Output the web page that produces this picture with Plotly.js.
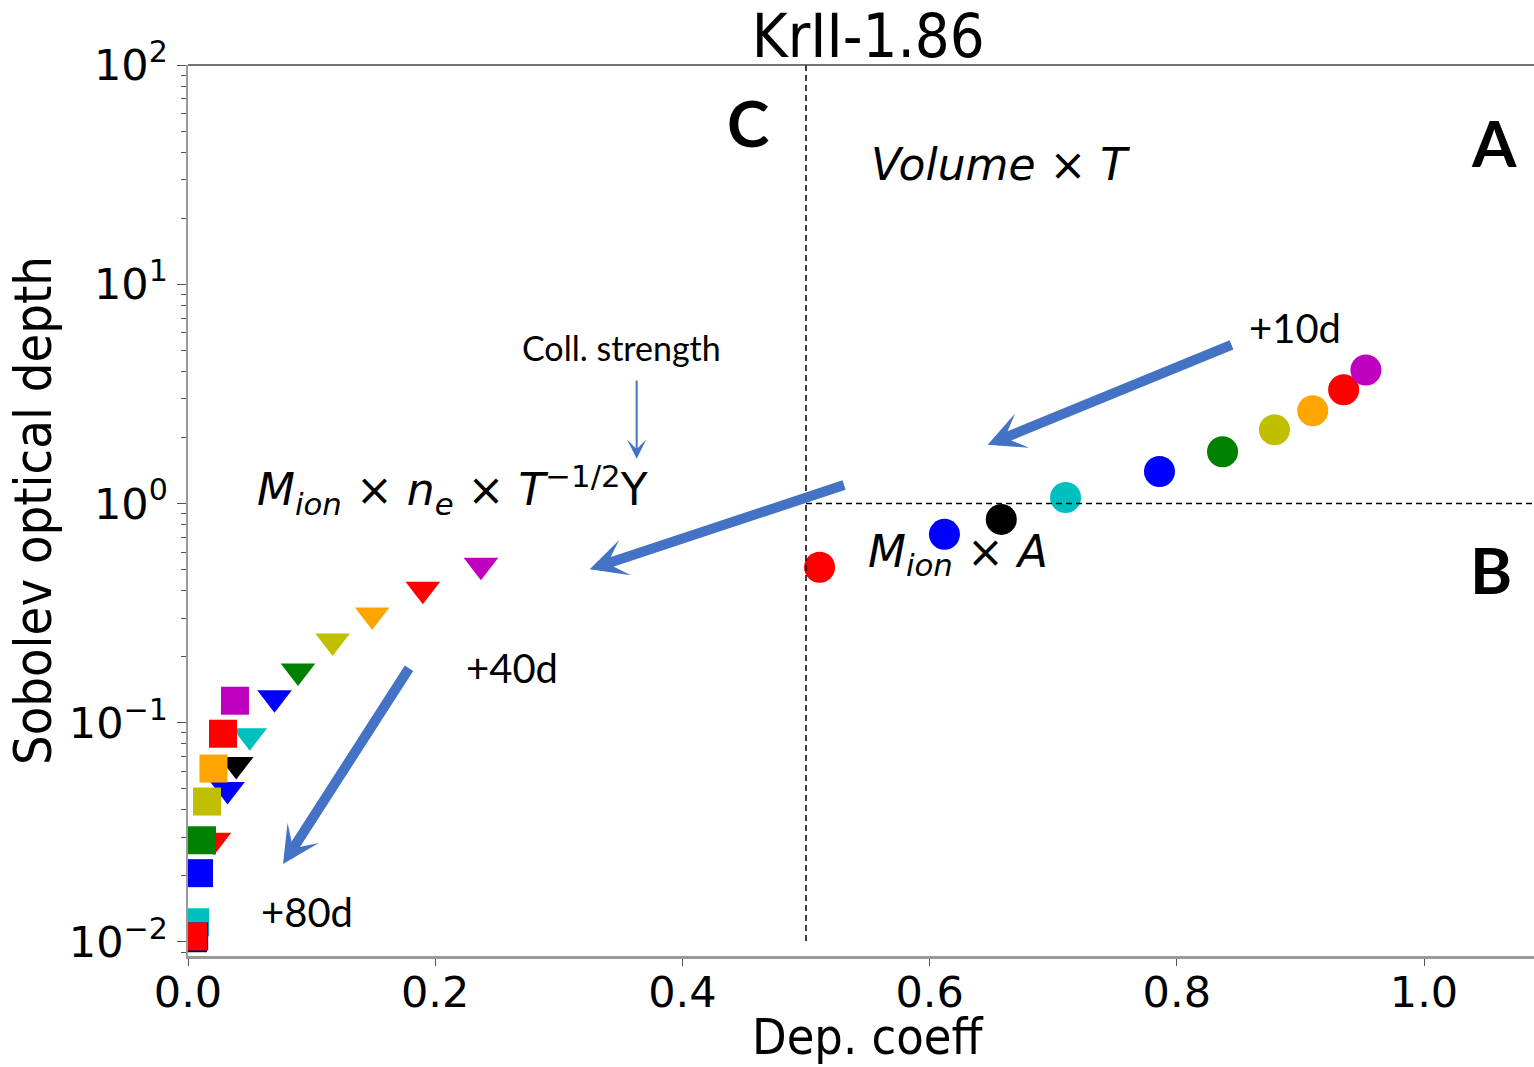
<!DOCTYPE html>
<html>
<head>
<meta charset="utf-8">
<script src="https://cdn.plot.ly/plotly-3.0.1.min.js"></script>
<style>html,body{margin:0;padding:0;background:#fff;}#chart{width:1534px;height:1067px;}</style>
</head>
<body>
<div id="chart"></div>
<script>
// Epoch colours (same order for every marker family)
const epochColors = ['#ff0000','#0000ff','#000000','#00bfbf','#0000ff','#008000','#bfbf00','#ffa500','#ff0000','#bf00bf'];

// Circles (upper right branch)
const circleX = [0.511,0.612,0.658,0.710,0.786,0.837,0.879,0.910,0.935,0.953];
const circleY = [0.512,0.723,0.846,1.065,1.398,1.723,2.17,2.65,3.30,4.06];

// Down-triangles
const triX = [0.021,0.032,0.039,0.050,0.070,0.089,0.117,0.149,0.190,0.237];
const triY = [0.0291,0.0496,0.0645,0.0873,0.130,0.172,0.236,0.310,0.406,0.523];

// Squares
const sqX = [0.004,0.005,0.004,0.0057,0.0089,0.0113,0.0154,0.0206,0.0283,0.038];
const sqY = [0.0106,0.0106,0.0104,0.0123,0.0206,0.0291,0.0437,0.0618,0.0891,0.126];

// Axis ticks
const xTickVals = [0,0.2,0.4,0.6,0.8,1.0];
const xTickText = ['0.0','0.2','0.4','0.6','0.8','1.0'];
const yTickVals = [0.01,0.1,1,10,100];
const yTickText = ['10<sup>−2</sup>','10<sup>−1</sup>','10<sup>0</sup>','10<sup>1</sup>','10<sup>2</sup>'];

const rev = a => a.slice().reverse();

const traces = [
  {x: circleX, y: circleY, type:'scatter', mode:'markers',
   marker:{symbol:'circle', size:31, color:epochColors, line:{width:0}}},
  {x: triX, y: triY, type:'scatter', mode:'markers',
   marker:{symbol:'triangle-down', size:30, color:epochColors, line:{width:0}}},
  {x: rev(sqX), y: rev(sqY), type:'scatter', mode:'markers',
   marker:{symbol:'square', size:28, color:rev(epochColors), line:{width:0}}}
];

const blue = '#4472C4';
const lg = Math.log10;
const mathFont = {family:'DejaVu Sans', size:44, color:'#000'};
const calFont = {family:'Lato', size:40, color:'#000'};
const letterFont = {family:'Lato', size:64, color:'#000', weight:900};

function label(x, y, text, font, extra){
  return Object.assign({xref:'x', yref:'y', x:x, y:lg(y), text:text, showarrow:false,
    xanchor:'center', yanchor:'middle', font:font}, extra||{});
}
function arrow(x0, y0, x1, y1, w, size){
  return {xref:'x', yref:'y', axref:'x', ayref:'y', x:x1, y:lg(y1), ax:x0, ay:lg(y0),
    text:'', showarrow:true, arrowhead:3, arrowwidth:w, arrowsize:size, arrowcolor:blue, standoff:0, startstandoff:0};
}

const annotations = [
  label(0.453, 54.5, '<b>C</b>', letterFont),
  label(1.0566, 44.3, '<b>A</b>', letterFont),
  label(1.054, 0.50, '<b>B</b>', letterFont),
  label(0.657, 35.1, '<i>Volume</i> × <i>T</i>', mathFont),
  label(0.623, 0.586, '<i>M</i><sub><i>ion</i></sub> × <i>A</i>', mathFont),
  label(0.2136, 1.157, '<i>M</i><sub><i>ion</i></sub> × <i>n</i><sub><i>e</i></sub> × <i>T</i><sup>−1/2</sup>Y', mathFont),
  label(0.351, 5.12, 'Coll. strength', {family:'Lato', size:34, color:'#000'}),
  label(0.8956, 6.31, '+10d', calFont),
  label(0.262, 0.178, '+40d', calFont),
  label(0.0963, 0.01368, '+80d', calFont),
  arrow(0.8455, 5.33, 0.647, 1.854, 10, 0.62),
  arrow(0.532, 1.22, 0.325, 0.501, 10, 0.62),
  arrow(0.1796, 0.18, 0.0769, 0.02265, 10, 0.62),
  arrow(0.363, 3.70, 0.363, 1.60, 2, 1.6),
  // x-axis title
  {xref:'paper', yref:'paper', x:0.505, y:-0.1246, xanchor:'center', yanchor:'bottom', showarrow:false,
   borderpad:0, text:'Dep. coeff', font:{family:'DejaVu Sans Condensed', size:50, color:'#000'}}
];

const shapes = [
  {type:'line', xref:'x', yref:'y', x0:0.5, x1:0.5, y0:0.0101, y1:100,
   line:{color:'#000', width:1.5, dash:'6px,4px'}},
  {type:'line', xref:'x', yref:'y', x0:0.5, x1:1.089, y0:1, y1:1,
   line:{color:'#000', width:1.5, dash:'6px,4px'}},
  {type:'line', xref:'paper', yref:'paper', x0:0, x1:1, y0:1, y1:1,
   line:{color:'#444', width:1.5}}
];

const layout = {
  width:1534, height:1067, autosize:false,
  margin:{l:188, r:0, t:65, b:111, pad:0},
  paper_bgcolor:'#fff', plot_bgcolor:'#fff',
  showlegend:false,
  title:{text:'KrII-1.86', xref:'container', yref:'container', x:0.566, y:0.967,
         xanchor:'center', yanchor:'middle',
         font:{family:'DejaVu Sans Condensed', size:61, color:'#000'}},
  xaxis:{range:[0,1.089], tickmode:'array', tickvals:xTickVals, ticktext:xTickText,
         ticks:'outside', ticklen:7, tickwidth:1, tickcolor:'#555', ticklabelstandoff:-10,
         showgrid:false, zeroline:false, showline:true, linecolor:'#999', linewidth:2.5,
         tickfont:{family:'DejaVu Sans', size:43, color:'#000'}},
  yaxis:{type:'log', range:[-2.064, 2.0], tickmode:'array', tickvals:yTickVals, ticktext:yTickText,
         ticks:'outside', ticklen:9, tickwidth:1, tickcolor:'#555',
         minor:{ticks:'outside', ticklen:5, tickwidth:1, tickcolor:'#555', dtick:'D1', showgrid:false},
         showgrid:false, zeroline:false, showline:true, linecolor:'#999', linewidth:2.5,
         tickfont:{family:'DejaVu Sans', size:43, color:'#000'},
         title:{text:'Sobolev optical depth', standoff:1, font:{family:'DejaVu Sans Condensed', size:52, color:'#000'}}},
  annotations: annotations,
  shapes: shapes
};

Plotly.newPlot('chart', traces, layout, {displayModeBar:false, staticPlot:true});
</script>
</body>
</html>
